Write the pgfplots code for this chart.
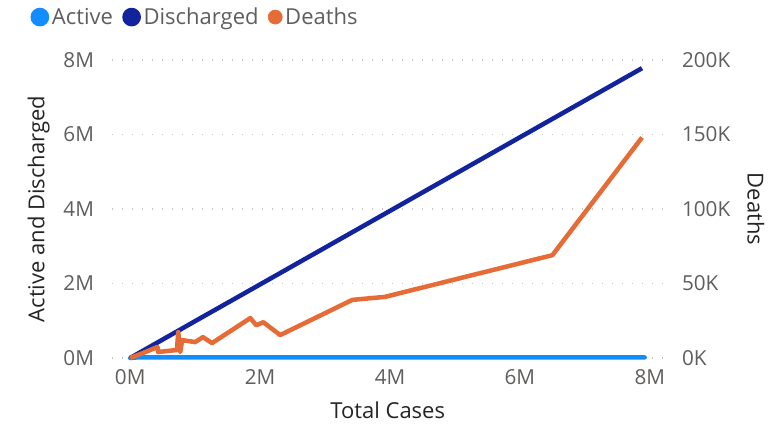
\documentclass[border=0pt]{standalone}
\usepackage{pgfplots}
\pgfplotsset{compat=1.18}
\usepackage{fontspec}
\setmainfont{Open Sans}
\definecolor{cActive}{HTML}{118DFF}
\definecolor{cDis}{HTML}{12239E}
\definecolor{cDeath}{HTML}{E66C37}
\definecolor{tickc}{HTML}{605E5C}
\definecolor{titc}{HTML}{252423}
\begin{document}
\begin{tikzpicture}[x=0.75pt,y=0.75pt]
\useasboundingbox (-112,-66) rectangle (669,358);
\pgfplotsset{
  every axis/.append style={
    at={(0,0)}, anchor=south west,
    scale only axis, width=417pt, height=223.5pt,
    xmin=-280000, xmax=8280000,
    clip=false,
    axis line style={draw=none},
    tick style={draw=none},
    /pgf/number format/assume math mode=true,
    tick label style={font=\fontsize{15.5}{18}\selectfont, text=tickc},
    label style={font=\fontsize{16.5}{20}\selectfont, text=titc},
  }
}
\begin{axis}[
  ymin=0, ymax=8000000,
  ytick={0,2000000,4000000,6000000,8000000},
  yticklabels={0M,2M,4M,6M,8M},
  xtick={0,2000000,4000000,6000000,8000000},
  xticklabels={0M,2M,4M,6M,8M},
  scaled ticks=false,
  ymajorgrids,
  grid style={gray!45, line width=0.9pt, dash pattern=on 1pt off 6.5pt},
  y tick label style={xshift=-10pt},
  x tick label style={yshift=-5pt},
  xlabel={Total Cases},
  xlabel style={at={(axis description cs:0.496,-0.175)}, anchor=center},
  ylabel={Active and Discharged},
  ylabel style={at={(axis description cs:-0.132,0.5)}, anchor=center},
  legend columns=3,
  legend style={draw=none, fill=none, at={(axis description cs:-0.147,1.144)}, anchor=west,
    font=\fontsize{16.5}{19}\selectfont, text=tickc,
    inner xsep=0pt,
    /tikz/every even column/.append style={column sep=5pt}},
  legend image code/.code={\fill (0.12cm,0) circle (5.3pt);},
]
\addplot[cActive, line width=3.4pt, line cap=round] coordinates {
(0,0) (100000,15000) (7920000,15000)
};
\addlegendentry{Active}
\addplot[cDis, line width=3.4pt, line join=round] coordinates {
(0,0) (1000000,990000) (2000000,1975000) (4000000,3950000) (6000000,5925000) (7880000,7780000)
};
\addlegendentry{Discharged}
\addlegendimage{cDeath}
\addlegendentry{Deaths}
\end{axis}
\begin{axis}[
  ymin=0, ymax=200000,
  ytick={0,50000,100000,150000,200000},
  yticklabels={0K,50K,100K,150K,200K},
  scaled ticks=false,
  xtick=\empty,
  yticklabel pos=right,
  y tick label style={xshift=7pt},
  ylabel={Deaths},
  ylabel style={at={(axis description cs:1.158,0.5)}, anchor=center, rotate=180},
]
\addplot[cDeath, line width=3.4pt, line join=round] coordinates {
(0,0) (200000,3400) (420000,7400) (430000,4000) (720000,5400) (740000,17400)
(770000,4000) (800000,12000) (1000000,10700) (1120000,14000) (1260000,10000)
(1850000,26800) (1940000,22000) (2050000,24000) (2310000,15400) (3420000,39000)
(3920000,41000) (6500000,69000) (7880000,148000)
};
\end{axis}
\end{tikzpicture}
\end{document}
